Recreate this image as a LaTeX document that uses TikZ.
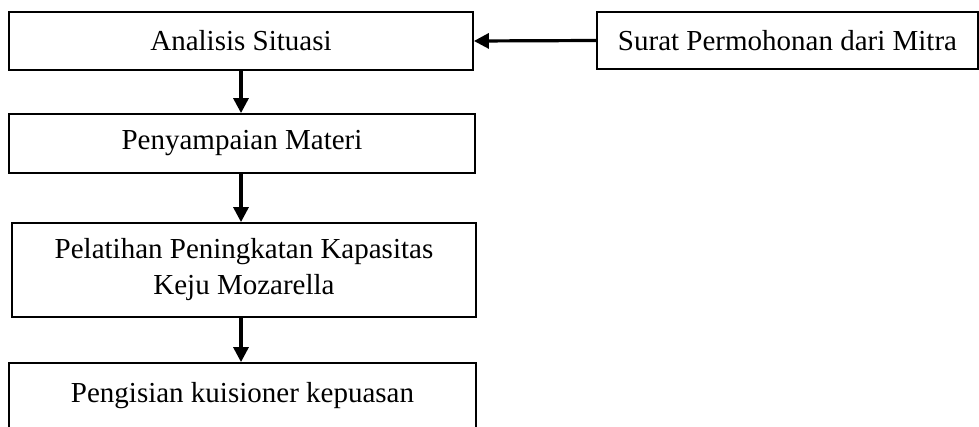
\documentclass[tikz,border=0pt]{standalone}
\usepackage{fontspec}
\setmainfont{Liberation Serif}
\usetikzlibrary{arrows.meta}

\begin{document}
\begin{tikzpicture}[x=0.5pt,y=-0.5pt,
    box/.style={draw, line width=0.9pt, minimum width=232pt, minimum height=29pt,
        inner sep=0pt, align=center, font=\fontsize{14.5}{18}\selectfont},
    flow/.style={-{Triangle[length=7.5pt,width=7.5pt]}, line width=1.6pt}]
    \useasboundingbox (0,0) rectangle (979,427);
    \clip (0,0) rectangle (979,427);

    % Draw the boxes
    \node[box] (situasi) at (241,41) {Analisis Situasi};
    \node[box, minimum width=190.5pt, minimum height=28.5pt] (surat) at (787.5,40.5) {Surat Permohonan dari Mitra};
    \node[box, minimum width=233pt, minimum height=29.5pt] (materi) at (242,143.5) {Penyampaian Materi};
    \node[box, minimum height=47pt] (pelatihan) at (244,270) {Pelatihan Peningkatan Kapasitas\\Keju Mozarella};
    \node[box, minimum width=233.5pt, minimum height=33pt] (kuisioner) at (242.5,396) {Pengisian kuisioner kepuasan};

    % Draw the arrows
    \draw[flow] (surat.west) -- (situasi.east);
    \foreach \a/\b in {situasi/materi, materi/pelatihan, pelatihan/kuisioner} {
        \draw[flow] (situasi.south |- \a.south) -- (situasi.south |- \b.north);
    }

\end{tikzpicture}
\end{document}
